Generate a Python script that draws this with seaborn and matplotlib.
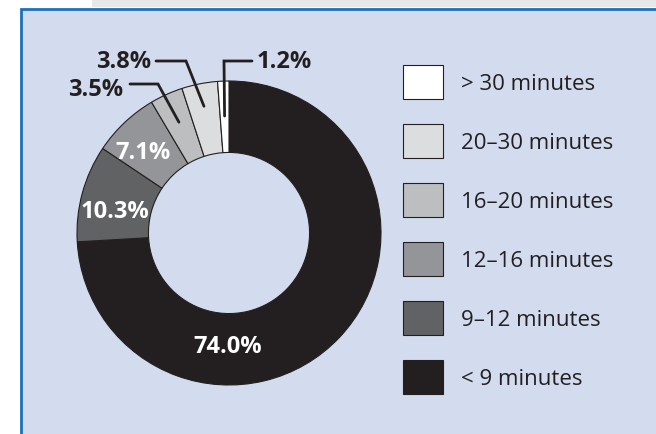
import matplotlib
matplotlib.use("Agg")
import matplotlib.pyplot as plt
from matplotlib.patches import Rectangle
import numpy as np
import seaborn as sns

# data, in drawing order (clockwise from 12 o'clock)
categories = ["< 9 minutes", "9\u201312 minutes", "12\u201316 minutes",
              "16\u201320 minutes", "20\u201330 minutes", "> 30 minutes"]
shares = [74.0, 10.3, 7.1, 3.5, 3.8, 1.2]
pct_labels = ["74.0%", "10.3%", "7.1%", "3.5%", "3.8%", "1.2%"]
grays = ["#231f20", "#616264", "#939598", "#bcbec0", "#dcddde", "#ffffff"]

sns.set_theme(style="white")
plt.rcParams["font.family"] = ["Open Sans", "DejaVu Sans"]

W, H = 656, 435
fig = plt.figure(figsize=(W / 100, H / 100), dpi=100)
fig.patch.set_facecolor("white")

# page decoration: grey strip and the blue framed panel
fig.patches.append(Rectangle((92 / W, 1 - 8 / H), 1, 8 / H, transform=fig.transFigure,
                             facecolor="#e6e7e9", edgecolor="none", zorder=-2))
fig.patches.append(Rectangle((20.5 / W, -0.1), 1.2, 1 - 9.5 / H + 0.1, transform=fig.transFigure,
                             facecolor="#d3dcee", edgecolor="#1b72bb", linewidth=2.0, zorder=-1))

# donut axes: centre (229, 234) px, radius 152 px
cx, cy, R = 229, 234, 152
ax = fig.add_axes([(cx - R) / W, 1 - (cy + R) / H, 2 * R / W, 2 * R / H])
ax.patch.set_alpha(0)
wedges, _ = ax.pie(shares, colors=grays, startangle=90, counterclock=False, radius=1,
                   wedgeprops=dict(width=0.47, edgecolor="#231f20", linewidth=0.8))
ax.set_xlim(-1, 1)
ax.set_ylim(-1, 1)
ax.set_axis_off()


def px(x, y):
    return (x - cx) / R, (cy - y) / R


label_kw = dict(fontsize=17, fontweight="bold", va="center")

# labels inside the ring
inside = {0: (228, 347), 1: (115, 212), 2: (143, 153)}
for i, (x, y) in inside.items():
    ax.text(*px(x, y), pct_labels[i], color="white", ha="center", **label_kw)


def mid_point(w, r):
    a = np.deg2rad((w.theta1 + w.theta2) / 2)
    return r * np.cos(a), r * np.sin(a)


# outside labels with leader lines: (text pos, ha, elbow start, elbow, radius of tip)
outside = {
    3: ((123, 90), "right", (130, 85), (158, 85), 0.80),
    4: ((151, 62), "right", (156, 62), (186, 62), 0.85),
    5: ((257, 62), "left", (252, 62), (224, 62), 0.77),
}
for i, (tpos, ha, p0, p1, r) in outside.items():
    ax.text(*px(*tpos), pct_labels[i], color="#231f20", ha=ha, clip_on=False, **label_kw)
    tip = mid_point(wedges[i], r)
    a, b = px(*p0), px(*p1)
    ax.plot([a[0], b[0], tip[0]], [a[1], b[1], tip[1]], color="#231f20", lw=2,
            solid_joinstyle="miter", clip_on=False)

fs = 16
fig.legend(wedges[::-1], categories[::-1], loc="upper left",
           bbox_to_anchor=(403 / W, 1 - 66 / H), bbox_transform=fig.transFigure,
           frameon=False, fontsize=fs, borderpad=0, borderaxespad=0,
           handlelength=40 / 22.2, handleheight=1.98,
           handletextpad=0.8, labelspacing=1.12, labelcolor="#231f20")

fig.savefig("out.png", dpi=100, facecolor=fig.get_facecolor())
